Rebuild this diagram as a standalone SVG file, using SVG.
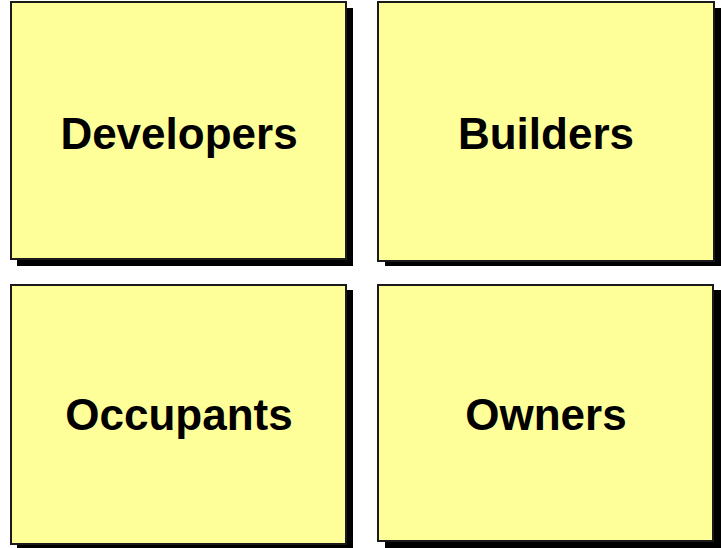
<svg xmlns="http://www.w3.org/2000/svg" width="721" height="548" viewBox="0 0 721 548">
<style>
.shadow{fill:#000}
.box{fill:#ffff99;stroke:#1a1a1a;stroke-width:2}
.lbl{font-family:"Liberation Sans",Arial,sans-serif;font-weight:bold;font-size:44px;fill:#000;text-anchor:middle}
</style>
<rect width="721" height="548" fill="#fff"/>
<g id="developers">
<rect class="shadow" x="17" y="8" width="336" height="258"/>
<rect class="box" x="11" y="2" width="335" height="257"/>
<text class="lbl" x="179" y="149">Developers</text>
</g>
<g id="builders">
<rect class="shadow" x="385" y="8" width="336" height="258"/>
<rect class="box" x="378" y="2" width="336" height="259"/>
<text class="lbl" x="546" y="149">Builders</text>
</g>
<g id="occupants">
<rect class="shadow" x="17" y="290" width="336" height="258"/>
<rect class="box" x="11" y="285" width="335" height="259"/>
<text class="lbl" x="179" y="430">Occupants</text>
</g>
<g id="owners">
<rect class="shadow" x="385" y="290" width="336" height="258"/>
<rect class="box" x="378" y="285" width="335" height="256"/>
<text class="lbl" x="546" y="430">Owners</text>
</g>
<g id="connectors"></g>
</svg>
